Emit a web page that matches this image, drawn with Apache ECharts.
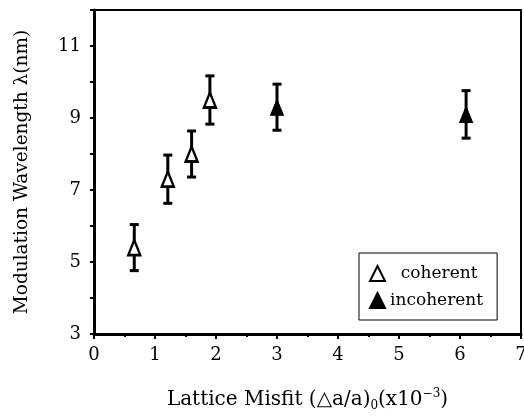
<!DOCTYPE html>
<html>
<head>
<meta charset="utf-8">
<script src="https://cdn.jsdelivr.net/npm/echarts@6/dist/echarts.min.js"></script>
<style>html,body{margin:0;padding:0;background:#fff;}#c{width:524px;height:416px;}</style>
</head>
<body>
<div id="c"></div>
<script>
// Data
const coherentX = [0.66, 1.21, 1.60, 1.90];
const coherentY = [5.4, 7.3, 8.0, 9.5];
const coherentErr = [0.64, 0.67, 0.64, 0.67];
const incoherentX = [3.0, 6.1];
const incoherentY = [9.3, 9.1];
const incoherentErr = [0.64, 0.66];
const xTicks = [0, 1, 2, 3, 4, 5, 6, 7];
const yTickLabels = [3, 5, 7, 9, 11];
const seriesNames = ['coherent', 'incoherent'];

const FONT = 'DejaVu Serif';

function pts(xs, ys) { return xs.map((x, i) => [x, ys[i]]); }
function errData(xs, ys, es) { return xs.map((x, i) => [x, ys[i] - es[i], ys[i] + es[i]]); }

const errRender = function (params, api) {
  const x = api.value(0);
  const lo = api.coord([x, api.value(1)]);
  const hi = api.coord([x, api.value(2)]);
  const cap = 4.5;
  const st = { stroke: '#000', lineWidth: 3 };
  return {
    type: 'group',
    children: [
      { type: 'line', shape: { x1: lo[0], y1: lo[1], x2: hi[0], y2: hi[1] }, style: st },
      { type: 'line', shape: { x1: lo[0] - cap, y1: lo[1], x2: lo[0] + cap, y2: lo[1] }, style: st },
      { type: 'line', shape: { x1: hi[0] - cap, y1: hi[1], x2: hi[0] + cap, y2: hi[1] }, style: st }
    ]
  };
};

const chart = echarts.init(document.getElementById('c'), null, { renderer: 'canvas' });
chart.setOption({
  animation: false,
  backgroundColor: '#fff',
  grid: { left: 94, right: 3, top: 10, bottom: 82, show: true, borderColor: '#000', borderWidth: 2,
    containLabel: false, outerBoundsMode: 'none' },
  xAxis: {
    type: 'value', min: xTicks[0], max: xTicks[xTicks.length - 1], interval: 1,
    name: 'Lattice Misfit (△a/a){sub|0}(x10{sup|−3})',
    nameLocation: 'middle', nameGap: 54,
    nameTextStyle: {
      fontFamily: FONT, fontSize: 20, color: '#000', lineHeight: 24,
      rich: {
        sub: { fontFamily: FONT, fontSize: 12, color: '#000', lineHeight: 13, verticalAlign: 'bottom' },
        sup: { fontFamily: FONT, fontSize: 12, color: '#000', lineHeight: 16, verticalAlign: 'top' }
      }
    },
    axisLine: { lineStyle: { color: '#000', width: 3 } },
    axisTick: { show: true, inside: false, length: 5, lineStyle: { color: '#000', width: 2 } },
    minorTick: { show: true, splitNumber: 2, length: 3, lineStyle: { color: '#000', width: 2 } },
    axisLabel: { fontFamily: FONT, fontSize: 18, color: '#000', margin: 12,
      formatter: v => xTicks.includes(v) ? String(v) : '' },
    splitLine: { show: false }
  },
  yAxis: {
    type: 'value', min: 3, max: 12, interval: 1,
    name: 'Modulation Wavelength λ(nm)',
    nameLocation: 'middle', nameGap: 62, nameRotate: 90,
    nameTextStyle: { fontFamily: FONT, fontSize: 18.5, color: '#000' },
    axisLine: { lineStyle: { color: '#000', width: 3 } },
    axisTick: { show: true, inside: false, length: 4, lineStyle: { color: '#000', width: 2 } },
    axisLabel: { fontFamily: FONT, fontSize: 18, color: '#000', margin: 13,
      formatter: v => yTickLabels.includes(v) ? String(v) : '' },
    splitLine: { show: false }
  },
  legend: {
    data: seriesNames,
    orient: 'vertical',
    left: 359, top: 253,
    backgroundColor: '#fff',
    borderColor: '#000', borderWidth: 1, borderRadius: 0,
    padding: [12, 14, 11, 10],
    itemGap: 10, itemWidth: 15, itemHeight: 15,
    textStyle: { fontFamily: FONT, fontSize: 17, color: '#000' },
    formatter: n => n === 'coherent' ? '  ' + n : n
  },
  series: [
    { type: 'custom', name: 'errC', renderItem: errRender, data: errData(coherentX, coherentY, coherentErr), z: 2, silent: true },
    { type: 'custom', name: 'errI', renderItem: errRender, data: errData(incoherentX, incoherentY, incoherentErr), z: 2, silent: true },
    { type: 'scatter', name: seriesNames[0], data: pts(coherentX, coherentY), symbol: 'triangle', symbolSize: [12, 15],
      itemStyle: { color: '#fff', borderColor: '#000', borderWidth: 2.5, opacity: 1 }, z: 5 },
    { type: 'scatter', name: seriesNames[1], data: pts(incoherentX, incoherentY), symbol: 'triangle', symbolSize: [13, 16],
      itemStyle: { color: '#000', borderColor: '#000', borderWidth: 1, opacity: 1 }, z: 5 }
  ]
});
</script>
</body>
</html>
